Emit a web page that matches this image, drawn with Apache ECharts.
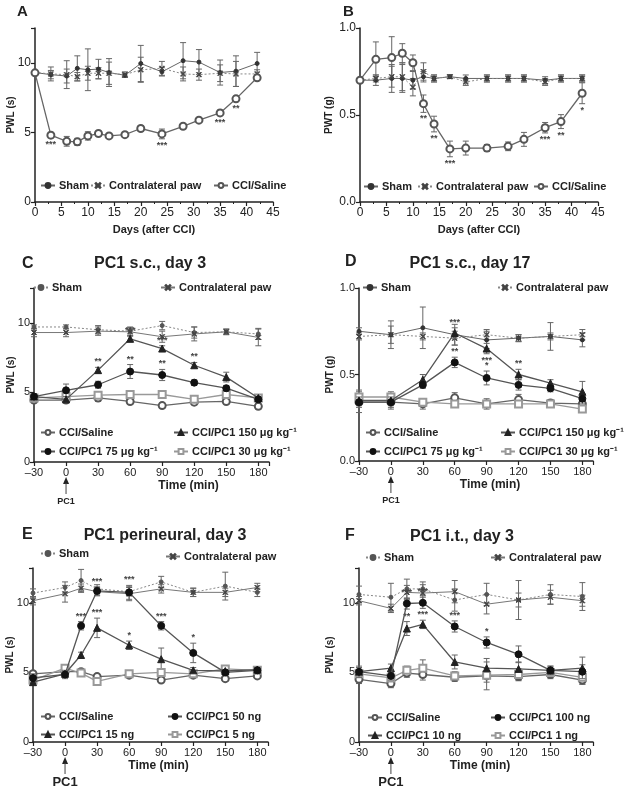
<!DOCTYPE html>
<html><head><meta charset="utf-8">
<script src="https://cdn.jsdelivr.net/npm/echarts/dist/echarts.min.js"></script>
<style>html,body{margin:0;padding:0;background:#fff}#c{width:629px;height:792px}</style>
</head><body><div id="c"></div>
<script>
// ---------------- DATA ----------------
// Panel A (PWL, s) & B (PWT, g) – days after CCI
const daysAB = [0, 3, 6, 8, 10, 12, 14, 17, 20, 24, 28, 31, 35, 38, 42];
const A_sham      = [9.3, 9.15, 9.05, 9.6, 9.5, 9.55, 9.3, 9.1, 9.95, 9.35, 10.15, 10.05, 9.3, 9.4, 9.95];
const A_shamErr   = [0.1, 0.3, 0.5, 0.9, 1.5, 0.7, 1.0, 0.15, 1.3, 0.3, 1.3, 0.9, 0.9, 1.1, 0.8];
const A_contra    = [9.3, 9.2, 9.15, 9.0, 9.25, 9.25, 9.25, 9.15, 9.5, 9.6, 9.2, 9.15, 9.25, 9.2, 9.2];
const A_contraErr = [0.1, 0.5, 1.0, 0.3, 0.5, 0.4, 0.8, 0.2, 0.9, 0.5, 0.5, 0.4, 0.6, 0.9, 0.3];
const A_saline    = [9.28, 4.8, 4.36, 4.32, 4.75, 4.92, 4.75, 4.84, 5.28, 4.89, 5.44, 5.88, 6.4, 7.41, 8.92];
const A_salineErr = [0.1, 0.2, 0.35, 0.25, 0.3, 0.15, 0.15, 0.1, 0.2, 0.35, 0.2, 0.15, 0.2, 0.2, 0.15];
const A_salineStars = ['', '***', '', '', '', '', '', '', '', '***', '', '', '***', '**', ''];

const B_sham      = [0.70, 0.70, 0.71, 0.71, 0.70, 0.72, 0.71, 0.72, 0.71, 0.71, 0.71, 0.71, 0.70, 0.71, 0.71];
const B_shamErr   = [0.01, 0.03, 0.08, 0.08, 0.05, 0.03, 0.02, 0.01, 0.02, 0.02, 0.02, 0.02, 0.02, 0.02, 0.02];
const B_contra    = [0.70, 0.71, 0.72, 0.72, 0.66, 0.75, 0.71, 0.72, 0.69, 0.71, 0.71, 0.71, 0.69, 0.71, 0.71];
const B_contraErr = [0.01, 0.02, 0.06, 0.08, 0.05, 0.05, 0.02, 0.01, 0.02, 0.02, 0.02, 0.02, 0.02, 0.02, 0.02];
const B_saline    = [0.70, 0.82, 0.83, 0.855, 0.80, 0.565, 0.448, 0.305, 0.31, 0.31, 0.32, 0.36, 0.427, 0.462, 0.625];
const B_salineErr = [0.01, 0.1, 0.12, 0.055, 0.045, 0.05, 0.045, 0.045, 0.04, 0.02, 0.025, 0.04, 0.03, 0.04, 0.06];
const B_salineStars = ['', '', '', '', '', '**', '**', '***', '', '', '', '', '***', '**', '*'];

// Panel C & D – PC1 s.c.
const timeCD = [-30, 0, 30, 60, 90, 120, 150, 180];
const C_sham      = [9.7, 9.7, 9.5, 9.4, 9.8, 9.3, 9.35, 9.2];
const C_shamErr   = [0.15, 0.15, 0.3, 0.3, 0.3, 0.4, 0.2, 0.4];
const C_contra    = [9.3, 9.3, 9.4, 9.35, 9.0, 9.2, 9.35, 8.95];
const C_contraErr = [0.3, 0.3, 0.3, 0.3, 0.4, 0.5, 0.2, 0.6];
const C_saline    = [4.45, 4.45, 4.6, 4.35, 4.05, 4.3, 4.35, 4.0];
const C_salineErr = [0.2, 0.2, 0.25, 0.2, 0.2, 0.2, 0.2, 0.2];
const C_pc150     = [4.7, 4.5, 6.6, 8.85, 8.15, 6.95, 6.1, 4.6];
const C_pc150Err  = [0.2, 0.2, 0.2, 0.2, 0.2, 0.2, 0.35, 0.2];
const C_pc150Stars = ['', '', '**', '***', '***', '**', '', ''];
const C_pc75      = [4.7, 5.15, 5.55, 6.5, 6.25, 5.7, 5.3, 4.5];
const C_pc75Err   = [0.2, 0.45, 0.25, 0.5, 0.4, 0.2, 0.2, 0.2];
const C_pc75Stars = ['', '', '', '**', '**', '', '', ''];
const C_pc30      = [4.6, 4.7, 4.8, 4.85, 4.85, 4.5, 4.85, 4.6];
const C_pc30Err   = [0.2, 0.2, 0.2, 0.2, 0.2, 0.2, 0.2, 0.2];

const D_sham      = [0.75, 0.73, 0.77, 0.73, 0.70, 0.71, 0.72, 0.70];
const D_shamErr   = [0.02, 0.08, 0.12, 0.06, 0.05, 0.02, 0.08, 0.04];
const D_contra    = [0.72, 0.73, 0.72, 0.71, 0.73, 0.71, 0.72, 0.73];
const D_contraErr = [0.02, 0.05, 0.02, 0.04, 0.03, 0.02, 0.02, 0.03];
const D_saline    = [0.34, 0.34, 0.33, 0.365, 0.33, 0.355, 0.335, 0.33];
const D_salineErr = [0.06, 0.04, 0.03, 0.03, 0.03, 0.03, 0.02, 0.02];
const D_pc150     = [0.35, 0.35, 0.47, 0.74, 0.65, 0.50, 0.45, 0.40];
const D_pc150Err  = [0.03, 0.03, 0.03, 0.03, 0.03, 0.03, 0.02, 0.06];
const D_pc150Stars = ['', '', '', '***', '', '**', '', ''];
const D_pc150StarsBelow = ['', '', '', '', '***', '', '', ''];
const D_pc75      = [0.34, 0.34, 0.44, 0.57, 0.48, 0.44, 0.42, 0.36];
const D_pc75Err   = [0.03, 0.03, 0.02, 0.03, 0.04, 0.03, 0.02, 0.03];
const D_pc75Stars = ['', '', '', '**', '*', '', '', ''];
const D_pc30      = [0.37, 0.37, 0.34, 0.33, 0.33, 0.33, 0.33, 0.30];
const D_pc30Err   = [0.04, 0.03, 0.02, 0.02, 0.02, 0.02, 0.02, 0.02];

// Panel E (perineural) & F (i.t.)
const timeEF = [-30, 0, 15, 30, 60, 90, 120, 150, 180];
const E_sham      = [10.7, 11.1, 11.6, 11.0, 10.8, 11.5, 10.75, 11.2, 10.75];
const E_shamErr   = [0.3, 0.4, 0.8, 0.3, 0.3, 0.4, 0.3, 1.0, 0.3];
const E_contra    = [10.15, 10.65, 11.05, 10.8, 10.65, 11.0, 10.75, 10.75, 11.1];
const E_contraErr = [0.3, 0.6, 0.3, 0.3, 0.5, 0.3, 0.3, 0.3, 0.3];
const E_saline    = [4.9, 5.05, 5.05, 4.7, 4.8, 4.45, 4.8, 4.55, 4.75];
const E_salineErr = [0.15, 0.15, 0.15, 0.15, 0.15, 0.15, 0.15, 0.2, 0.15];
const E_pc50      = [4.6, 4.85, 8.35, 10.85, 10.75, 8.35, 6.4, 5.0, 5.15];
const E_pc50Err   = [0.3, 0.3, 0.3, 0.3, 0.5, 0.3, 0.7, 0.2, 0.2];
const E_pc50Stars = ['', '', '***', '***', '***', '***', '*', '', ''];
const E_pc15      = [4.3, 4.9, 6.25, 8.2, 6.95, 5.95, 5.15, 5.1, 5.2];
const E_pc15Err   = [0.2, 0.2, 0.2, 0.7, 0.3, 0.8, 0.2, 0.2, 0.2];
const E_pc15Stars = ['', '', '', '***', '*', '', '', '', ''];
const E_pc5       = [4.45, 5.3, 4.95, 4.35, 4.9, 5.0, 4.9, 5.25, 5.15];
const E_pc5Err    = [0.2, 0.2, 0.2, 0.15, 0.2, 0.2, 0.2, 0.2, 0.2];

const F_sham      = [10.6, 10.4, 11.0, 11.0, 10.2, 10.6, 10.2, 10.6, 10.45];
const F_shamErr   = [0.6, 1.0, 0.7, 0.5, 0.8, 0.8, 1.4, 0.7, 1.0];
const F_contra    = [10.15, 9.6, 10.75, 10.7, 10.8, 9.9, 10.2, 10.4, 10.15];
const F_contraErr = [0.3, 0.3, 0.5, 0.6, 0.8, 0.7, 0.5, 0.5, 0.4];
const F_saline    = [4.5, 4.2, 4.95, 4.85, 4.65, 4.75, 4.7, 4.85, 4.45];
const F_salineErr = [0.3, 0.3, 0.3, 0.4, 0.3, 1.0, 0.3, 0.3, 0.3];
const F_pc100     = [5.05, 4.75, 9.95, 10.0, 8.3, 7.15, 6.3, 5.15, 5.05];
const F_pc100Err  = [0.4, 0.3, 0.4, 0.4, 0.4, 0.4, 0.6, 0.3, 0.5];
const F_pc100Stars = ['', '', '***', '***', '***', '*', '', '', ''];
const F_pc10      = [5.05, 5.3, 8.15, 8.45, 5.75, 5.3, 5.25, 5.15, 5.3];
const F_pc10Err   = [0.3, 0.3, 0.5, 0.3, 0.5, 0.7, 0.5, 0.3, 0.8];
const F_pc10Stars = ['', '', '**', '***', '', '', '', '', ''];
const F_pc1       = [4.9, 4.6, 5.15, 5.3, 4.75, 4.8, 4.85, 5.0, 4.65];
const F_pc1Err    = [0.3, 0.3, 0.3, 0.6, 0.3, 0.5, 0.4, 0.3, 0.5];

// ---------------- STYLE / BUILD ----------------
const FONT = '"Liberation Sans", Arial, Helvetica, sans-serif';
const TXT = '#222';
const XPATH = 'path://M0,1L1,0L5,4L9,0L10,1L6,5L10,9L9,10L5,6L1,10L0,9L4,5Z';
const ST = {
  shamSolid:  {symbol:'circle', size:4, color:'#333', line:'#666', lw:1, dash:'solid', z:3},
  shamDot:    {symbol:'circle', size:4, color:'#555', line:'#888', lw:1, dash:[2,2], z:3},
  contraDot:  {symbol:XPATH, size:5, color:'#444', line:'#888', lw:1, dash:[2,2], z:3},
  contraSolid:{symbol:XPATH, size:5, color:'#444', line:'#777', lw:1, dash:'solid', z:3},
  saline:     {symbol:'emptyCircle', size:7, color:'#555', line:'#666', lw:1.3, dash:'solid', bw:1.4, z:4},
  tri:        {symbol:'triangle', size:7, color:'#222', line:'#555', lw:1.3, dash:'solid', z:5},
  dot:        {symbol:'circle', size:7, color:'#111', line:'#555', lw:1.3, dash:'solid', z:6},
  sq:         {symbol:'emptyRect', size:7, color:'#999', line:'#999', lw:1.3, dash:'solid', bw:1.2, z:4}
};
const labelOf = {};
const series = [];
function addSeries(id, label, gi, xs, ys, errs, st, starsUp, starsDown) {
  labelOf[id] = label;
  series.push({
    type:'line', name:id, xAxisIndex:gi, yAxisIndex:gi, animation:false,
    data: xs.map((x, i) => [x, ys[i]]),
    symbol: st.symbol, symbolSize: st.size, z: st.z,
    itemStyle:{color: st.color, borderColor: st.color, borderWidth: st.bw || 1},
    lineStyle:{color: st.line, width: st.lw, type: st.dash}
  });
  series.push({
    type:'custom', xAxisIndex:gi, yAxisIndex:gi, silent:true, animation:false, z: st.z - 1,
    data: xs.map((x, i) => [x, ys[i], errs[i]]),
    encode:{x:0, y:1},
    renderItem: function (params, api) {
      const x = api.value(0), y = api.value(1), e = api.value(2);
      const t = api.coord([x, y + e]), b = api.coord([x, y - e]);
      const s = {stroke:'#666', lineWidth:1};
      const ch = [
        {type:'line', shape:{x1:t[0], y1:t[1], x2:b[0], y2:b[1]}, style:s},
        {type:'line', shape:{x1:t[0]-3, y1:t[1], x2:t[0]+3, y2:t[1]}, style:s},
        {type:'line', shape:{x1:b[0]-3, y1:b[1], x2:b[0]+3, y2:b[1]}, style:s}
      ];
      const i = params.dataIndex;
      if (starsUp && starsUp[i]) ch.push({type:'text', x:t[0], y:t[1]-1,
        style:{text:starsUp[i], align:'center', verticalAlign:'bottom', font:'bold 9px ' + FONT, fill:'#444'}});
      if (starsDown && starsDown[i]) ch.push({type:'text', x:b[0], y:b[1]+2,
        style:{text:starsDown[i], align:'center', verticalAlign:'top', font:'bold 9px ' + FONT, fill:'#444'}});
      return {type:'group', children:ch};
    }
  });
}

// Panel A
addSeries('A_sham', 'Sham', 0, daysAB, A_sham, A_shamErr, ST.shamSolid);
addSeries('A_contra', 'Contralateral paw', 0, daysAB, A_contra, A_contraErr, ST.contraDot);
addSeries('A_saline', 'CCI/Saline', 0, daysAB, A_saline, A_salineErr, ST.saline, null, A_salineStars);
// Panel B
addSeries('B_sham', 'Sham', 1, daysAB, B_sham, B_shamErr, ST.shamSolid);
addSeries('B_contra', 'Contralateral paw', 1, daysAB, B_contra, B_contraErr, ST.contraDot);
addSeries('B_saline', 'CCI/Saline', 1, daysAB, B_saline, B_salineErr, ST.saline, null, B_salineStars);
// Panel C
addSeries('C_sham', 'Sham', 2, timeCD, C_sham, C_shamErr, ST.shamDot);
addSeries('C_contra', 'Contralateral paw', 2, timeCD, C_contra, C_contraErr, ST.contraSolid);
addSeries('C_saline', 'CCI/Saline', 2, timeCD, C_saline, C_salineErr, ST.saline);
addSeries('C_pc30', 'CCI/PC1 30 μg kg⁻¹', 2, timeCD, C_pc30, C_pc30Err, ST.sq);
addSeries('C_pc150', 'CCI/PC1 150 μg kg⁻¹', 2, timeCD, C_pc150, C_pc150Err, ST.tri, C_pc150Stars);
addSeries('C_pc75', 'CCI/PC1 75 μg kg⁻¹', 2, timeCD, C_pc75, C_pc75Err, ST.dot, C_pc75Stars);
// Panel D
addSeries('D_sham', 'Sham', 3, timeCD, D_sham, D_shamErr, ST.shamSolid);
addSeries('D_contra', 'Contralateral paw', 3, timeCD, D_contra, D_contraErr, ST.contraDot);
addSeries('D_saline', 'CCI/Saline', 3, timeCD, D_saline, D_salineErr, ST.saline);
addSeries('D_pc30', 'CCI/PC1 30 μg kg⁻¹', 3, timeCD, D_pc30, D_pc30Err, ST.sq);
addSeries('D_pc150', 'CCI/PC1 150 μg kg⁻¹', 3, timeCD, D_pc150, D_pc150Err, ST.tri, D_pc150Stars, D_pc150StarsBelow);
addSeries('D_pc75', 'CCI/PC1 75 μg kg⁻¹', 3, timeCD, D_pc75, D_pc75Err, ST.dot, D_pc75Stars);
// Panel E
addSeries('E_sham', 'Sham', 4, timeEF, E_sham, E_shamErr, ST.shamDot);
addSeries('E_contra', 'Contralateral paw', 4, timeEF, E_contra, E_contraErr, ST.contraSolid);
addSeries('E_saline', 'CCI/Saline', 4, timeEF, E_saline, E_salineErr, ST.saline);
addSeries('E_pc5', 'CCI/PC1 5 ng', 4, timeEF, E_pc5, E_pc5Err, ST.sq);
addSeries('E_pc15', 'CCI/PC1 15 ng', 4, timeEF, E_pc15, E_pc15Err, ST.tri, E_pc15Stars);
addSeries('E_pc50', 'CCI/PC1 50 ng', 4, timeEF, E_pc50, E_pc50Err, ST.dot, E_pc50Stars);
// Panel F
addSeries('F_sham', 'Sham', 5, timeEF, F_sham, F_shamErr, ST.shamDot);
addSeries('F_contra', 'Contralateral paw', 5, timeEF, F_contra, F_contraErr, ST.contraSolid);
addSeries('F_saline', 'CCI/Saline', 5, timeEF, F_saline, F_salineErr, ST.saline);
addSeries('F_pc1', 'CCI/PC1 1 ng', 5, timeEF, F_pc1, F_pc1Err, ST.sq);
addSeries('F_pc10', 'CCI/PC1 10 ng', 5, timeEF, F_pc10, F_pc10Err, ST.tri, F_pc10Stars);
addSeries('F_pc100', 'CCI/PC1 100 ng', 5, timeEF, F_pc100, F_pc100Err, ST.dot, F_pc100Stars);

// grids: [left, top, width, height]
const GR = [[35, 28, 238, 174], [360, 28, 238, 174], [34, 288, 235, 174], [359, 288, 234, 173], [33, 568, 235, 174], [359, 568, 234, 174]];
const grid = GR.map(g => ({left:g[0], top:g[1], width:g[2], height:g[3], outerBoundsMode:'none', containLabel:false}));

const axisCommon = {
  axisLine:{show:true, onZero:false, lineStyle:{color:'#222', width:1.5}},
  axisTick:{show:true, length:4, lineStyle:{color:'#222', width:1.2}},
  splitLine:{show:false},
  nameMoveOverlap:false
};
const xNames = ['Days (after CCI)', 'Days (after CCI)', 'Time (min)', 'Time (min)', 'Time (min)', 'Time (min)'];
const xShift = [0, 0, 74, 28, 16, 8];
const xAxis = GR.map((g, i) => Object.assign({}, axisCommon, {
  type:'value', gridIndex:i,
  min: i < 2 ? 0 : -30, max: i < 2 ? 45 : 190, interval: i < 2 ? 5 : 30,
  minorTick: i < 2 ? {show:true, splitNumber:2, length:2, lineStyle:{color:'#222'}} : {show:false},
  axisLabel:{fontSize: i < 2 ? 12 : 11, color:TXT, margin:5, fontFamily:FONT,
    formatter: v => (v > 180 ? '' : (v < 0 ? '–' + Math.abs(v) : String(v)))},
  name: xNames[i], nameLocation:'middle', nameGap: i < 2 ? 22 : 18,
  nameTextStyle:{fontSize: i < 2 ? 11 : 12, fontWeight:'bold', color:TXT, fontFamily:FONT, padding:[0, 0, 0, xShift[i]]}
}));
const isG = [false, true, false, true, false, false];
const yGap = [19, 26, 18, 24, 18, 24];
const yAxis = GR.map((g, i) => Object.assign({}, axisCommon, {
  type:'value', gridIndex:i, min:0, max: isG[i] ? 1.0 : 12.5, interval: isG[i] ? 0.5 : 5,
  axisLabel:{fontSize: i < 2 ? 12 : 11, color:TXT, margin:4, fontFamily:FONT,
    formatter: v => isG[i] ? v.toFixed(1) : (v % 5 === 0 ? String(v) : '')},
  name: isG[i] ? 'PWT (g)' : 'PWL (s)', nameLocation:'middle', nameRotate:90, nameGap: yGap[i],
  nameTextStyle:{fontSize:10, fontWeight:'bold', color:TXT, fontFamily:FONT}
}));

// legends: [seriesId, iconLeft, centerY]
const LG = [
  ['A_sham', 40, 186], ['A_contra', 90, 186], ['A_saline', 213, 186],
  ['B_sham', 363, 187], ['B_contra', 417, 187], ['B_saline', 533, 187],
  ['C_sham', 33, 288], ['C_contra', 160, 288], ['C_saline', 40, 433], ['C_pc150', 173, 433], ['C_pc75', 40, 452], ['C_pc30', 173, 452],
  ['D_sham', 362, 288], ['D_contra', 497, 288], ['D_saline', 365, 433], ['D_pc150', 500, 433], ['D_pc75', 365, 452], ['D_pc30', 500, 452],
  ['E_sham', 40, 554], ['E_contra', 165, 557], ['E_saline', 40, 717], ['E_pc50', 167, 717], ['E_pc15', 40, 735], ['E_pc5', 167, 735],
  ['F_sham', 365, 558], ['F_contra', 490, 558], ['F_saline', 367, 718], ['F_pc100', 490, 718], ['F_pc10', 367, 736], ['F_pc1', 490, 736]
];
const legend = LG.map(l => ({
  data:[l[0]], left:l[1], top:l[2] - 6, padding:0, itemWidth:14, itemHeight:6, itemGap:0, selectedMode:false,
  formatter: n => labelOf[n],
  textStyle:{fontSize:11, fontWeight:'bold', color:TXT, fontFamily:FONT, padding:[0, 0, 0, -1]}
}));

// panel letters and titles
const TT = [
  ['A', 17, 4, 15, 'left'], ['B', 343, 4, 15, 'left'],
  ['C', 22, 256, 16, 'left'], ['PC1 s.c., day 3', 150, 256, 16, 'center'],
  ['D', 345, 254, 16, 'left'], ['PC1 s.c., day 17', 470, 256, 16, 'center'],
  ['E', 22, 527, 16, 'left'], ['PC1 perineural, day 3', 165, 528, 16, 'center'],
  ['F', 345, 528, 16, 'left'], ['PC1 i.t., day 3', 462, 529, 16, 'center']
];
const titleGraphics = TT.map(t => ({type:'text', x:t[1], y:t[2], silent:true,
  style:{text:t[0], align:t[4], verticalAlign:'top', font:'bold ' + t[3] + 'px ' + FONT, fill:TXT}}));

const chart = echarts.init(document.getElementById('c'), null, {renderer:'canvas'});
chart.setOption({
  backgroundColor:'#fff', animation:false,
  grid, xAxis, yAxis, legend, series,
  graphic: titleGraphics
});

// "PC1" injection arrows at t = 0 for panels C–F
const arrows = [];
[[2, 9, 40], [3, 9, 40], [4, 13, 40], [5, 13, 40]].forEach(([gi, fs, td]) => {
  const p = chart.convertToPixel({gridIndex: gi}, [0, 0]);
  const x = p[0], y0 = p[1];
  arrows.push({type:'polygon', silent:true, shape:{points:[[x, y0 + 15], [x - 3, y0 + 22], [x + 3, y0 + 22]]}, style:{fill:'#222'}});
  arrows.push({type:'line', silent:true, shape:{x1:x, y1:y0 + 21, x2:x, y2:y0 + 32}, style:{stroke:'#444', lineWidth:1}});
  arrows.push({type:'text', silent:true, x:x, y:y0 + td, style:{text:'PC1', align:'center', verticalAlign:'middle', font:'bold ' + fs + 'px ' + FONT, fill:TXT}});
});
chart.setOption({graphic: titleGraphics.concat(arrows)});
</script></body></html>
